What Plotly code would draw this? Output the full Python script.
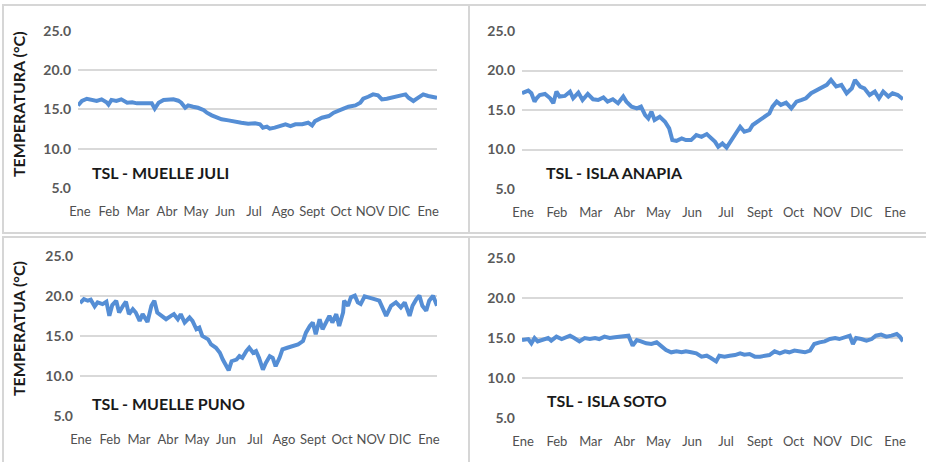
import plotly.graph_objects as go

W, H = 926, 462

# ---------------- data (day of year, temperature °C) ----------------
day_juli = [0, 4, 9, 14, 19, 24, 29, 31, 34, 39, 44, 50, 55, 60, 65, 70, 75, 78, 82, 87, 92, 97,
            102, 105, 109, 112, 117, 122, 128, 131, 136, 141, 146, 153, 160, 166, 173, 180, 185,
            188, 192, 195, 200, 205, 211, 216, 221, 228, 234, 238, 241, 248, 255, 260, 265, 270,
            275, 282, 287, 290, 295, 300, 305, 309, 314, 319, 324, 329, 333, 336, 341, 346, 351,
            356, 361, 365]
temp_juli = [15.5, 16.06, 16.35, 16.14, 16.06, 16.27, 15.9, 15.6, 16.2, 16.06, 16.27, 15.85, 15.9,
             15.76, 15.76, 15.85, 15.76, 15.08, 15.85, 16.2, 16.2, 16.27, 16.1, 15.85, 15.2, 15.5,
             15.34, 15.2, 14.9, 14.58, 14.24, 13.94, 13.73, 13.6, 13.5, 13.3, 13.18, 13.22, 13.1,
             12.67, 12.8, 12.54, 12.67, 12.88, 13.1, 12.88, 13.1, 13.1, 13.3, 12.95, 13.5, 13.94,
             14.15, 14.58, 14.9, 15.08, 15.34, 15.5, 15.85, 16.35, 16.6, 16.9, 16.78, 16.27, 16.35,
             16.48, 16.6, 16.7, 16.9, 16.48, 16.06, 16.48, 16.9, 16.7, 16.6, 16.48]

day_anapia = [0, 6, 9, 12, 14, 17, 22, 27, 30, 33, 36, 41, 46, 49, 54, 58, 63, 68, 73, 78, 82, 87,
              92, 97, 100, 105, 110, 114, 118, 121, 124, 127, 132, 137, 141, 144, 148, 153, 157,
              162, 167, 172, 177, 181, 185, 188, 192, 196, 201, 205, 209, 213, 218, 221, 226, 233,
              237, 240, 244, 248, 253, 258, 263, 268, 272, 277, 282, 287, 292, 296, 301, 306, 311,
              316, 319, 324, 328, 333, 338, 342, 346, 351, 355, 360, 365]
temp_anapia = [17.12, 17.46, 17.12, 16.06, 16.48, 16.9, 17.03, 16.48, 15.85, 17.33, 16.7, 16.78,
               17.33, 16.48, 17.2, 16.27, 17.03, 16.36, 16.27, 16.6, 16.06, 16.36, 15.85, 16.7,
               16.06, 15.42, 15.2, 15.42, 14.36, 13.94, 14.79, 13.73, 14.15, 13.52, 12.67, 11.19,
               11.1, 11.4, 11.19, 11.19, 11.82, 11.6, 11.95, 11.4, 10.97, 10.34, 10.76, 10.25,
               11.19, 12.03, 12.88, 12.25, 12.46, 13.1, 13.52, 14.15, 14.58, 15.42, 16.06, 15.64,
               15.93, 15.2, 16.06, 16.27, 16.48, 17.12, 17.46, 17.75, 18.18, 18.81, 17.97, 18.18,
               17.12, 17.75, 18.81, 17.97, 17.75, 16.9, 17.33, 16.48, 17.33, 16.7, 17.12, 16.9,
               16.36]

day_puno = [0, 4, 8, 11, 15, 18, 23, 27, 30, 33, 37, 40, 44, 47, 50, 54, 57, 61, 64, 69, 73, 76,
            79, 83, 88, 93, 96, 100, 103, 107, 112, 115, 119, 122, 125, 131, 134, 139, 143, 146,
            149, 152, 155, 160, 163, 166, 170, 173, 177, 180, 183, 187, 190, 194, 197, 200, 204,
            207, 212, 217, 223, 228, 231, 235, 238, 241, 245, 248, 252, 255, 258, 262, 265, 269,
            270, 274, 277, 281, 284, 287, 291, 296, 301, 306, 309, 313, 318, 323, 328, 332, 337,
            340, 344, 347, 350, 354, 357, 361, 365]
temp_puno = [19.12, 19.62, 19.41, 19.54, 18.7, 19.2, 18.99, 19.29, 17.52, 18.87, 19.41, 17.94,
             18.78, 19.29, 17.73, 18.36, 17.94, 16.89, 17.73, 16.76, 18.78, 19.41, 17.94, 17.52,
             17.1, 17.52, 17.73, 17.1, 17.73, 16.68, 17.31, 16.89, 15.84, 16.05, 15.0, 14.58,
             13.95, 13.53, 12.9, 12.06, 11.43, 10.71, 11.85, 12.06, 12.48, 12.27, 13.11, 13.53,
             12.9, 13.11, 12.27, 10.8, 11.64, 12.48, 12.27, 11.22, 12.27, 13.32, 13.53, 13.74,
             13.95, 14.37, 15.42, 16.26, 16.68, 15.21, 17.1, 15.84, 16.89, 17.52, 16.68, 17.73,
             16.26, 17.94, 19.41, 18.78, 19.83, 20.04, 19.2, 18.99, 19.96, 19.83, 19.62, 19.41,
             18.57, 17.52, 18.78, 19.2, 18.57, 19.2, 17.52, 18.78, 19.62, 20.04, 18.78, 18.15,
             19.41, 20.04, 18.78]

day_soto = [0, 6, 9, 12, 15, 20, 25, 28, 33, 38, 43, 46, 50, 55, 60, 65, 70, 74, 79, 84, 89, 94,
            98, 102, 106, 110, 114, 119, 124, 129, 134, 138, 143, 148, 153, 157, 162, 167, 172,
            177, 181, 186, 189, 194, 199, 204, 209, 213, 218, 223, 228, 233, 237, 242, 247, 252,
            256, 261, 266, 271, 276, 280, 285, 290, 295, 300, 304, 309, 314, 317, 320, 325, 330,
            335, 339, 344, 349, 354, 359, 362, 365]
temp_soto = [14.75, 14.87, 14.33, 15.0, 14.58, 14.75, 15.0, 14.67, 15.17, 14.87, 15.08, 15.29,
             15.0, 14.58, 15.0, 14.87, 15.0, 14.87, 15.17, 15.0, 15.08, 15.17, 15.17, 15.29, 14.04,
             14.75, 14.58, 14.33, 14.25, 14.46, 13.92, 13.5, 13.21, 13.33, 13.21, 13.33, 13.21,
             13.08, 12.67, 12.79, 12.5, 12.08, 12.79, 12.67, 12.79, 12.87, 13.08, 12.92, 13.0,
             12.67, 12.67, 12.79, 12.87, 13.33, 13.08, 13.33, 13.21, 13.42, 13.33, 13.21, 13.42,
             14.25, 14.46, 14.58, 14.87, 15.0, 14.87, 15.08, 15.29, 14.25, 15.0, 14.87, 14.67,
             14.87, 15.29, 15.42, 15.17, 15.29, 15.5, 15.17, 14.58]

labels_13 = ["Ene", "Feb", "Mar", "Abr", "May", "Jun", "Jul", "Ago", "Sept", "Oct", "NOV", "DIC", "Ene"]
labels_12 = ["Ene", "Feb", "Mar", "Abr", "May", "Jun", "Jul", "Sept", "Oct", "NOV", "DIC", "Ene"]
y_ticks = [5, 10, 15, 20, 25]

titles = ["TSL - MUELLE JULI", "TSL - ISLA ANAPIA", "TSL - MUELLE PUNO", "TSL - ISLA SOTO"]

# ---------------- layout helpers (pixel -> paper) ----------------
def px(x):
    return x / W

def py(y):
    return 1 - y / H

LINE = "#558ED5"
GRID = "#D9D9D9"
FONT = "Lato"

panels = [
    dict(days=day_juli, temps=temp_juli, xr=(78, 437), yr=(30.7, 188), labels=labels_13,
         t0=2, dt=29.5, title_xy=(90, 172)),
    dict(days=day_anapia, temps=temp_anapia, xr=(522, 903), yr=(31, 189), labels=labels_12,
         t0=1, dt=32.4, title_xy=(544, 172)),
    dict(days=day_puno, temps=temp_puno, xr=(80, 437), yr=(256, 416), labels=labels_13,
         t0=1, dt=29.65, title_xy=(90, 403)),
    dict(days=day_soto, temps=temp_soto, xr=(522, 903), yr=(258, 418), labels=labels_12,
         t0=1, dt=32.4, title_xy=(545, 400)),
]

fig = go.Figure()
layout = dict(
    width=W, height=H,
    margin=dict(l=0, r=0, t=0, b=0, pad=0, autoexpand=False),
    paper_bgcolor="white", plot_bgcolor="white",
    showlegend=False,
    font=dict(family=FONT, color="#595959"),
)
annotations = []

for i, p in enumerate(panels):
    n = i + 1
    xa = "x" if n == 1 else f"x{n}"
    ya = "y" if n == 1 else f"y{n}"
    fig.add_trace(go.Scatter(x=p["days"], y=p["temps"], mode="lines",
                             line=dict(color=LINE, width=4), xaxis=xa, yaxis=ya,
                             hoverinfo="skip"))
    tickvals = [p["t0"] + p["dt"] * k for k in range(len(p["labels"]))]
    layout["xaxis" if n == 1 else f"xaxis{n}"] = dict(
        domain=[px(p["xr"][0]), px(p["xr"][1])], range=[0, 365],
        anchor=ya, showgrid=False, zeroline=False, showline=False, automargin=False,
        tickmode="array", tickvals=tickvals, ticktext=p["labels"],
        ticks="", ticklabelstandoff=14, tickangle=0,
        tickfont=dict(family=FONT, size=13, color="#505050"), fixedrange=True,
    )
    layout["yaxis" if n == 1 else f"yaxis{n}"] = dict(
        domain=[py(p["yr"][1]), py(p["yr"][0])], range=[5, 25],
        anchor=xa, showgrid=True, gridcolor=GRID, gridwidth=1.5, automargin=False,
        zeroline=False, showline=False,
        tickmode="array", tickvals=y_ticks, ticktext=[f"{v:.1f}" for v in y_ticks],
        ticks="", ticklabelstandoff=6,
        tickfont=dict(family=FONT, size=14, color="#595959", weight="bold"), fixedrange=True,
    )
    annotations.append(dict(
        text=f"<b>{titles[i]}</b>", x=px(p["title_xy"][0]), y=py(p["title_xy"][1]),
        xref="paper", yref="paper", xanchor="left", yanchor="middle", showarrow=False,
        font=dict(family=FONT, size=16, color="#1a1a1a"),
    ))

annotations.append(dict(text="<b>TEMPERATURA (°C)</b>", x=px(18), y=py(104), xref="paper",
                        yref="paper", textangle=-90, showarrow=False, xanchor="center",
                        yanchor="middle", font=dict(family=FONT, size=16, color="#1a1a1a")))
annotations.append(dict(text="<b>TEMPERATUA (°C)</b>", x=px(18), y=py(329), xref="paper",
                        yref="paper", textangle=-90, showarrow=False, xanchor="center",
                        yanchor="middle", font=dict(family=FONT, size=16, color="#1a1a1a")))
layout["annotations"] = annotations

shapes = []
for (x0, y0, x1, y1) in [(3, 5, 469, 233), (469, 5, 932, 233), (3, 237, 469, 470), (469, 237, 932, 470)]:
    shapes.append(dict(type="rect", xref="paper", yref="paper",
                       x0=px(x0), x1=px(x1), y0=py(y1), y1=py(y0),
                       line=dict(color="#D6D6D6", width=2), fillcolor="rgba(0,0,0,0)",
                       layer="below"))
layout["shapes"] = shapes

fig.update_layout(**layout)
fig.write_html("out.html", config={"displayModeBar": False},
               post_script="document.body.style.margin='0';")
